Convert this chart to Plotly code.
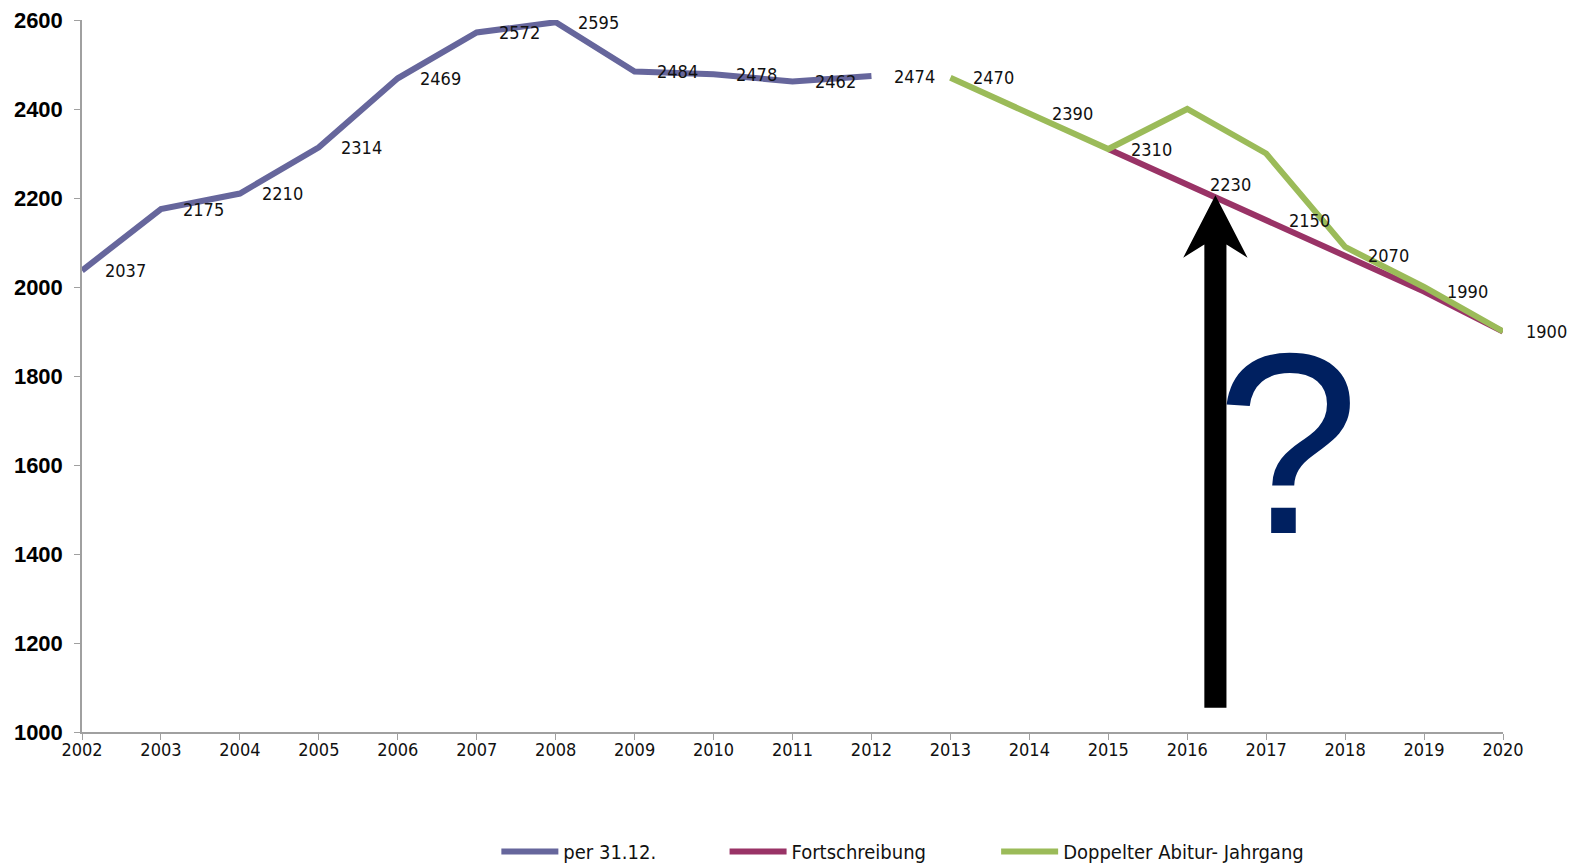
import plotly.graph_objects as go

# ---- data ----
years = list(range(2002, 2021))
year_labels = [str(y) for y in years]

ist_years = list(range(2002, 2013))
ist_values = [2037, 2175, 2210, 2314, 2469, 2572, 2595, 2484, 2478, 2462, 2474]

fort_years = list(range(2015, 2021))
fort_values = [2310, 2230, 2150, 2070, 1990, 1900]

abi_years = list(range(2013, 2021))
abi_values = [2470, 2390, 2310, 2400, 2300, 2090, 2000, 1900]
abi_labeled_count = 2  # only the first two points carry a data label

y_ticks = [1000, 1200, 1400, 1600, 1800, 2000, 2200, 2400, 2600]

names = ["per 31.12.", "Fortschreibung", "Doppelter Abitur- Jahrgang"]
colors = ["#66669C", "#993366", "#9BBB59"]
legend_ids = ["legend", "legend2", "legend3"]
legend_x = [0.2916, 0.4522, 0.6433]

NARROW = "Liberation Sans Narrow, Arial Narrow, DejaVu Sans Condensed, sans-serif"

fig = go.Figure()
for xs, ys, name, col, lg in [
    (ist_years, ist_values, names[0], colors[0], legend_ids[0]),
    (fort_years, fort_values, names[1], colors[1], legend_ids[1]),
    (abi_years, abi_values, names[2], colors[2], legend_ids[2]),
]:
    fig.add_trace(go.Scatter(x=xs, y=ys, mode="lines", name=name, legend=lg,
                             line=dict(color=col, width=6),
                             hoverinfo="skip"))

# data labels
label_pts = list(zip(ist_years, ist_values)) + \
    list(zip(abi_years[:abi_labeled_count], abi_values[:abi_labeled_count])) + \
    list(zip(fort_years, fort_values))
for x, v in label_pts:
    fig.add_annotation(x=x, y=v, text=str(v), showarrow=False, xshift=43,
                       font=dict(family=NARROW, size=18, color="#111111"))

# big arrow (shape) and question mark
fig.add_shape(type="path", xref="x", yref="y",
              path=("M 2016.357 2206.2 L 2016.764 2065.9 L 2016.497 2095.4 "
                    "L 2016.497 1054.4 L 2016.217 1054.4 L 2016.217 2095.4 "
                    "L 2015.949 2065.9 Z"),
              fillcolor="#000000", line=dict(width=0), layer="above")

fig.add_annotation(xref="paper", yref="paper", x=0.8486, y=0.4045,
                   xanchor="center", yanchor="middle", text="?", showarrow=False,
                   font=dict(family="Liberation Sans, Arial, sans-serif", size=258, color="#002060"))

legend_style = dict(orientation="h", xanchor="left", y=-0.1677, yanchor="middle",
                    font=dict(family=NARROW, size=20, color="#111111"),
                    itemwidth=57, bgcolor="rgba(0,0,0,0)")

fig.update_layout(
    width=1587, height=871,
    margin=dict(l=82, r=84, t=20, b=139, autoexpand=False),
    paper_bgcolor="white", plot_bgcolor="white",
    hovermode=False,
    showlegend=True,
    legend=dict(x=legend_x[0], **legend_style),
    legend2=dict(x=legend_x[1], **legend_style),
    legend3=dict(x=legend_x[2], **legend_style),
    xaxis=dict(range=[2002, 2020], tickmode="array", tickvals=years, ticktext=year_labels,
               showgrid=False, zeroline=False, showline=True, linecolor="#A0A0A0", linewidth=1.5,
               ticks="outside", ticklen=6, tickcolor="#A0A0A0", automargin=False,
               ticklabelstandoff=-5,
               tickfont=dict(family=NARROW, size=18, color="#111111")),
    yaxis=dict(range=[1000, 2600], tickmode="array", tickvals=y_ticks,
               showgrid=False, zeroline=False, showline=True, linecolor="#A0A0A0", linewidth=1.5,
               ticks="outside", ticklen=6, tickcolor="#A0A0A0", automargin=False,
               ticklabelstandoff=7,
               tickfont=dict(family="Liberation Sans, Arial, sans-serif", size=22, color="#000000",
                             weight="bold")),
)

fig.write_html("out.html", config={"displayModeBar": False},
               post_script="document.body.style.margin='0px';document.body.style.overflow='hidden';")
